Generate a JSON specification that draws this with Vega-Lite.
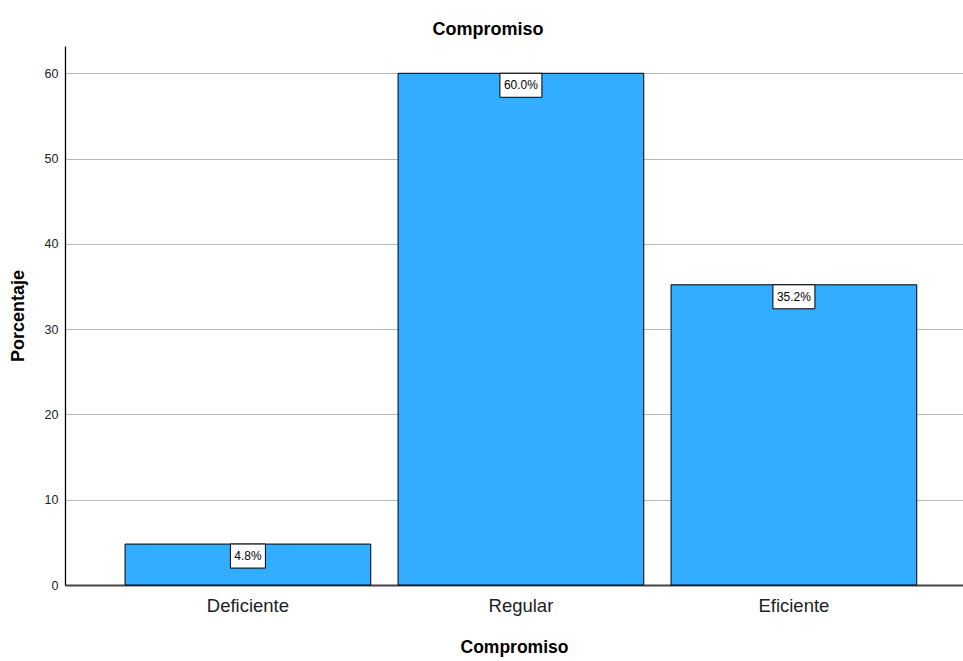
{
  "$schema": "https://vega.github.io/schema/vega-lite/v6.json",
  "width": 898,
  "height": 539,
  "autosize": {"type": "none"},
  "padding": {"left": 65, "top": 46, "right": 0, "bottom": 76},
  "background": "white",
  "config": {
    "view": {"stroke": null},
    "font": "Liberation Sans"
  },
  "title": {
    "text": "Compromiso",
    "font": "Liberation Sans",
    "fontSize": 18,
    "fontWeight": "bold",
    "color": "#000000",
    "anchor": "middle",
    "frame": "group",
    "dx": -26,
    "baseline": "alphabetic",
    "offset": 10,
    "dy": 17
  },
  "data": {
    "values": [
      {"cat": "Deficiente", "pct": 4.8, "label": "4.8%"},
      {"cat": "Regular", "pct": 60.0, "label": "60.0%"},
      {"cat": "Eficiente", "pct": 35.2, "label": "35.2%"}
    ]
  },
  "encoding": {
    "x": {
      "field": "cat",
      "type": "nominal",
      "sort": ["Deficiente", "Regular", "Eficiente"],
      "scale": {"paddingInner": 0.1, "paddingOuter": 0.1947, "align": 0.565},
      "axis": {
        "title": "Compromiso",
        "titleFont": "Liberation Sans",
        "titleFontSize": 17.5,
        "titleFontWeight": "bold",
        "titleColor": "#000000",
        "titlePadding": 24,
        "labelFont": "Liberation Sans",
        "labelFontSize": 18.5,
        "labelColor": "#222222",
        "labelAngle": 0,
        "labelPadding": 11,
        "ticks": false,
        "domainColor": "#444444",
        "domainWidth": 2,
        "grid": false
      }
    },
    "y": {
      "field": "pct",
      "type": "quantitative",
      "scale": {"domain": [0, 63.2], "nice": false},
      "axis": {
        "title": "Porcentaje",
        "titleFont": "Liberation Sans",
        "titleFontSize": 18,
        "titleFontWeight": "bold",
        "titleColor": "#000000",
        "titlePadding": 17,
        "values": [0, 10, 20, 30, 40, 50, 60],
        "labelFont": "Liberation Sans",
        "labelFontSize": 12.5,
        "labelColor": "#222222",
        "labelPadding": 7,
        "ticks": false,
        "domainColor": "#000000",
        "domainWidth": 1.3,
        "grid": true,
        "gridColor": "#b8b8b8",
        "gridWidth": 1
      }
    }
  },
  "layer": [
    {
      "mark": {"type": "bar", "color": "#32adff", "stroke": "#000000", "strokeWidth": 1}
    },
    {
      "mark": {"type": "point", "filled": true, "fill": "#ffffff", "stroke": "#000000", "strokeWidth": 1, "opacity": 1, "yOffset": 12},
      "encoding": {
        "shape": {
          "condition": {"test": "datum.pct < 10", "value": "M-1,-0.686L1,-0.686L1,0.686L-1,0.686Z"},
          "value": "M-1,-0.571L1,-0.571L1,0.571L-1,0.571Z"
        },
        "size": {
          "condition": {"test": "datum.pct < 10", "value": 1225},
          "value": 1764
        }
      }
    },
    {
      "mark": {"type": "text", "font": "Liberation Sans", "fontSize": 12, "color": "#000000", "baseline": "middle", "align": "center", "yOffset": 12},
      "encoding": {
        "text": {"field": "label", "type": "nominal"}
      }
    }
  ]
}
